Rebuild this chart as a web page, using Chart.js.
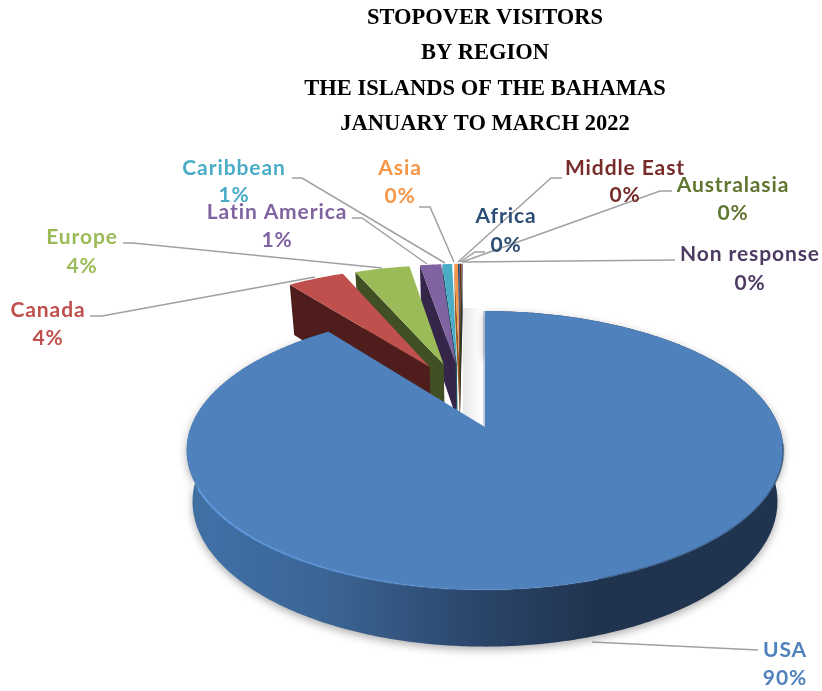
<!DOCTYPE html>
<html>
<head>
<meta charset="utf-8">
<title>Stopover visitors by region</title>
<script src="https://cdn.jsdelivr.net/npm/chart.js@4"></script>
<style>
  html, body { margin: 0; padding: 0; background: #fff; overflow: hidden; }
  #wrap { width: 822px; height: 691px; }
</style>
</head>
<body>
<div id="wrap"><canvas id="regionChart" width="822" height="691"></canvas></div>
<script>
var regions = ["USA", "Canada", "Europe", "Latin America", "Caribbean", "Asia", "Africa", "Middle East", "Australasia", "Non response"];
var shares = [89.7, 3.86, 3.74, 1.45, 0.67, 0.25, 0.12, 0.12, 0.05, 0.04];
var titleLines = ["STOPOVER VISITORS", "BY REGION", "THE ISLANDS OF THE BAHAMAS", "JANUARY TO MARCH 2022"];

var faceColors = ["#4f81bd", "#c0504d", "#9bbb59", "#8064a2", "#4bacc6", "#f79646", "#2c4d75", "#772c2a", "#5f7530", "#4d3b62"];
var wallColors = ["#2b466b", "#4f1e1c", "#414f24", "#352649", "#1f5566", "#9b5a1e", "#182b42", "#401716", "#333f1a", "#291f35"];

// how far each slice is pulled out and in which direction (degrees from 12 o'clock, to the left)
var explode = [0, 0.52, 0.52, 0.52, 0.52, 0.52, 0.52, 0.52, 0.52, 0.52];
var explodeDir = [0, 23, 17, 12, 11.5, 10.5, 10.5, 10.5, 10.5, 10.5];

// label centres: x, y of name, y of percentage
var labelPos = [[785, 650, 678], [48, 310, 338], [82, 237, 266], [277, 212, 240], [234, 168, 195],
                [400, 168, 196], [506, 216, 245], [625, 168, 195], [733, 185, 213], [750, 254, 283]];
var leaders = [
  [[758, 650], [592, 642]],
  [[90, 316], [102, 316], [315, 277]],
  [[123, 243], [133, 243], [382, 268]],
  [[352, 218], [362, 218], [427, 264]],
  [[292, 178], [302, 178], [445, 263]],
  [[419, 207], [430, 207], [454, 262]],
  [[485, 252], [475, 252], [460, 262]],
  [[562, 178], [551, 178], [458, 262]],
  [[672, 191], [660, 191], [462, 262]],
  [[675, 260], [462, 262]]
];

var view = { sx: 1.114, sy: 0.513, depth: 0.193, a: 0.168, c: 0.02 };

// disc coordinates -> page, with a bit of perspective
function project(arc, u, v, z) {
  var r = arc.outerRadius;
  var w = (1 + view.a * v) * (1 + view.c * z);
  return {
    x: arc.x + r * view.sx * u / w,
    y: arc.y + r * (-view.sy * v + view.depth * z) / w
  };
}

function slicePoints(arc, i, z) {
  var a0 = arc.startAngle + Math.PI / 2;
  var a1 = arc.endAngle + Math.PI / 2;
  var d = explodeDir[i] * Math.PI / 180;
  var eu = -Math.sin(d) * explode[i];
  var ev = Math.cos(d) * explode[i];
  var n = Math.max(2, Math.ceil((a1 - a0) / 0.01));
  var pts = [];
  for (var k = 0; k <= n; k++) {
    var t = a0 + (a1 - a0) * k / n;
    pts.push(project(arc, eu + Math.sin(t), ev + Math.cos(t), z));
  }
  return { rim: pts, apex: project(arc, eu, ev, z) };
}

function tracePoly(ctx, pts) {
  ctx.beginPath();
  pts.forEach(function(p, k) {
    if (k === 0) ctx.moveTo(p.x, p.y); else ctx.lineTo(p.x, p.y);
  });
  ctx.closePath();
}

function drawSmallSlice(ctx, arc, i) {
  var top = slicePoints(arc, i, 0);
  var bot = slicePoints(arc, i, 1.15);
  ctx.fillStyle = wallColors[i];
  tracePoly(ctx, [top.apex, top.rim[0], bot.rim[0], bot.apex]);
  ctx.fill();
  ctx.fillStyle = faceColors[i];
  tracePoly(ctx, [top.apex].concat(top.rim));
  ctx.fill();
}

function drawUsaSlice(ctx, arc) {
  var top = slicePoints(arc, 0, 0);
  var bot = slicePoints(arc, 0, 1);

  var wall = ctx.createLinearGradient(187, 0, 785, 0);
  wall.addColorStop(0, "#41719f");
  wall.addColorStop(0.05, "#3f6fa6");
  wall.addColorStop(0.25, "#3a6392");
  wall.addColorStop(0.48, "#2b466b");
  wall.addColorStop(0.68, "#20344f");
  wall.addColorStop(1, "#1f344e");

  ctx.save();
  ctx.shadowColor = "rgba(0,0,0,0.32)";
  ctx.shadowBlur = 9;
  ctx.shadowOffsetY = 3;
  ctx.fillStyle = wall;
  tracePoly(ctx, top.rim.concat(bot.rim.slice().reverse()));
  ctx.fill();
  ctx.restore();

  ctx.fillStyle = faceColors[0];
  tracePoly(ctx, [top.apex].concat(top.rim));
  ctx.fill();

  // thin edge on the cut at 12 o'clock
  ctx.strokeStyle = "rgba(60,90,130,0.55)";
  ctx.lineWidth = 1;
  ctx.beginPath();
  ctx.moveTo(top.apex.x - 1, top.apex.y);
  ctx.lineTo(top.rim[0].x - 1, top.rim[0].y);
  ctx.stroke();

  // soft dark rim on the right, light bevel on the left
  var n = top.rim.length;
  var rimPart = function(from, to) {
    return top.rim.slice(Math.floor(n * from), Math.floor(n * to));
  };
  var strokeRim = function(pts, style, width) {
    ctx.strokeStyle = style;
    ctx.lineWidth = width;
    ctx.beginPath();
    pts.forEach(function(p, k) {
      if (k === 0) ctx.moveTo(p.x, p.y); else ctx.lineTo(p.x, p.y);
    });
    ctx.stroke();
  };
  strokeRim(rimPart(0.3, 0.5), "rgba(30,52,80,0.4)", 2);
  var bevel = ctx.createLinearGradient(187, 0, 480, 0);
  bevel.addColorStop(0, "#5e9ae0");
  bevel.addColorStop(1, "rgba(94,154,224,0.15)");
  strokeRim(rimPart(0.5, 0.76), bevel, 2);
}

var pie3dPlugin = {
  id: "pie3d",
  beforeDatasetDraw: function() {
    return false;
  },
  afterDatasetsDraw: function(chart) {
    var ctx = chart.ctx;
    var arcs = chart.getDatasetMeta(0).data;
    ctx.save();

    // faint shadow in the gap next to the pulled-out slices
    var gap = ctx.createLinearGradient(463, 0, 481, 0);
    gap.addColorStop(0, "rgba(0,0,0,0.09)");
    gap.addColorStop(1, "rgba(0,0,0,0)");
    ctx.fillStyle = gap;
    ctx.fillRect(463, 308, 18, 112);

    // far slices first, nearest one last
    for (var i = arcs.length - 1; i >= 1; i--) {
      drawSmallSlice(ctx, arcs[i], i);
    }
    drawUsaSlice(ctx, arcs[0]);

    // leader lines
    ctx.strokeStyle = "#a0a0a0";
    ctx.lineWidth = 1.5;
    leaders.forEach(function(line) {
      ctx.beginPath();
      line.forEach(function(p, k) {
        if (k === 0) ctx.moveTo(p[0], p[1]); else ctx.lineTo(p[0], p[1]);
      });
      ctx.stroke();
    });

    // labels
    var total = shares.reduce(function(a, b) { return a + b; }, 0);
    ctx.font = "bold 21px Lato";
    ctx.letterSpacing = "0.9px";
    ctx.textAlign = "center";
    ctx.textBaseline = "middle";
    regions.forEach(function(name, i) {
      ctx.fillStyle = faceColors[i];
      ctx.fillText(name, labelPos[i][0], labelPos[i][1]);
      ctx.fillText(Math.round(shares[i] / total * 100) + "%", labelPos[i][0], labelPos[i][2]);
    });
    ctx.restore();
  }
};

var regionChart = new Chart(document.getElementById("regionChart").getContext("2d"), {
  type: "pie",
  data: {
    labels: regions,
    datasets: [{
      data: shares,
      backgroundColor: faceColors,
      borderWidth: 0
    }]
  },
  options: {
    responsive: false,
    animation: false,
    layout: { padding: { left: 148, right: 0, top: 0, bottom: 0 } },
    plugins: {
      legend: { display: false },
      tooltip: { enabled: false },
      title: {
        display: true,
        text: titleLines,
        color: "#000",
        font: { family: "'Liberation Serif'", size: 22.5, weight: "bold", lineHeight: 1.578 },
        padding: { top: 0, bottom: 21 }
      }
    }
  },
  plugins: [pie3dPlugin]
});
</script>
</body>
</html>
